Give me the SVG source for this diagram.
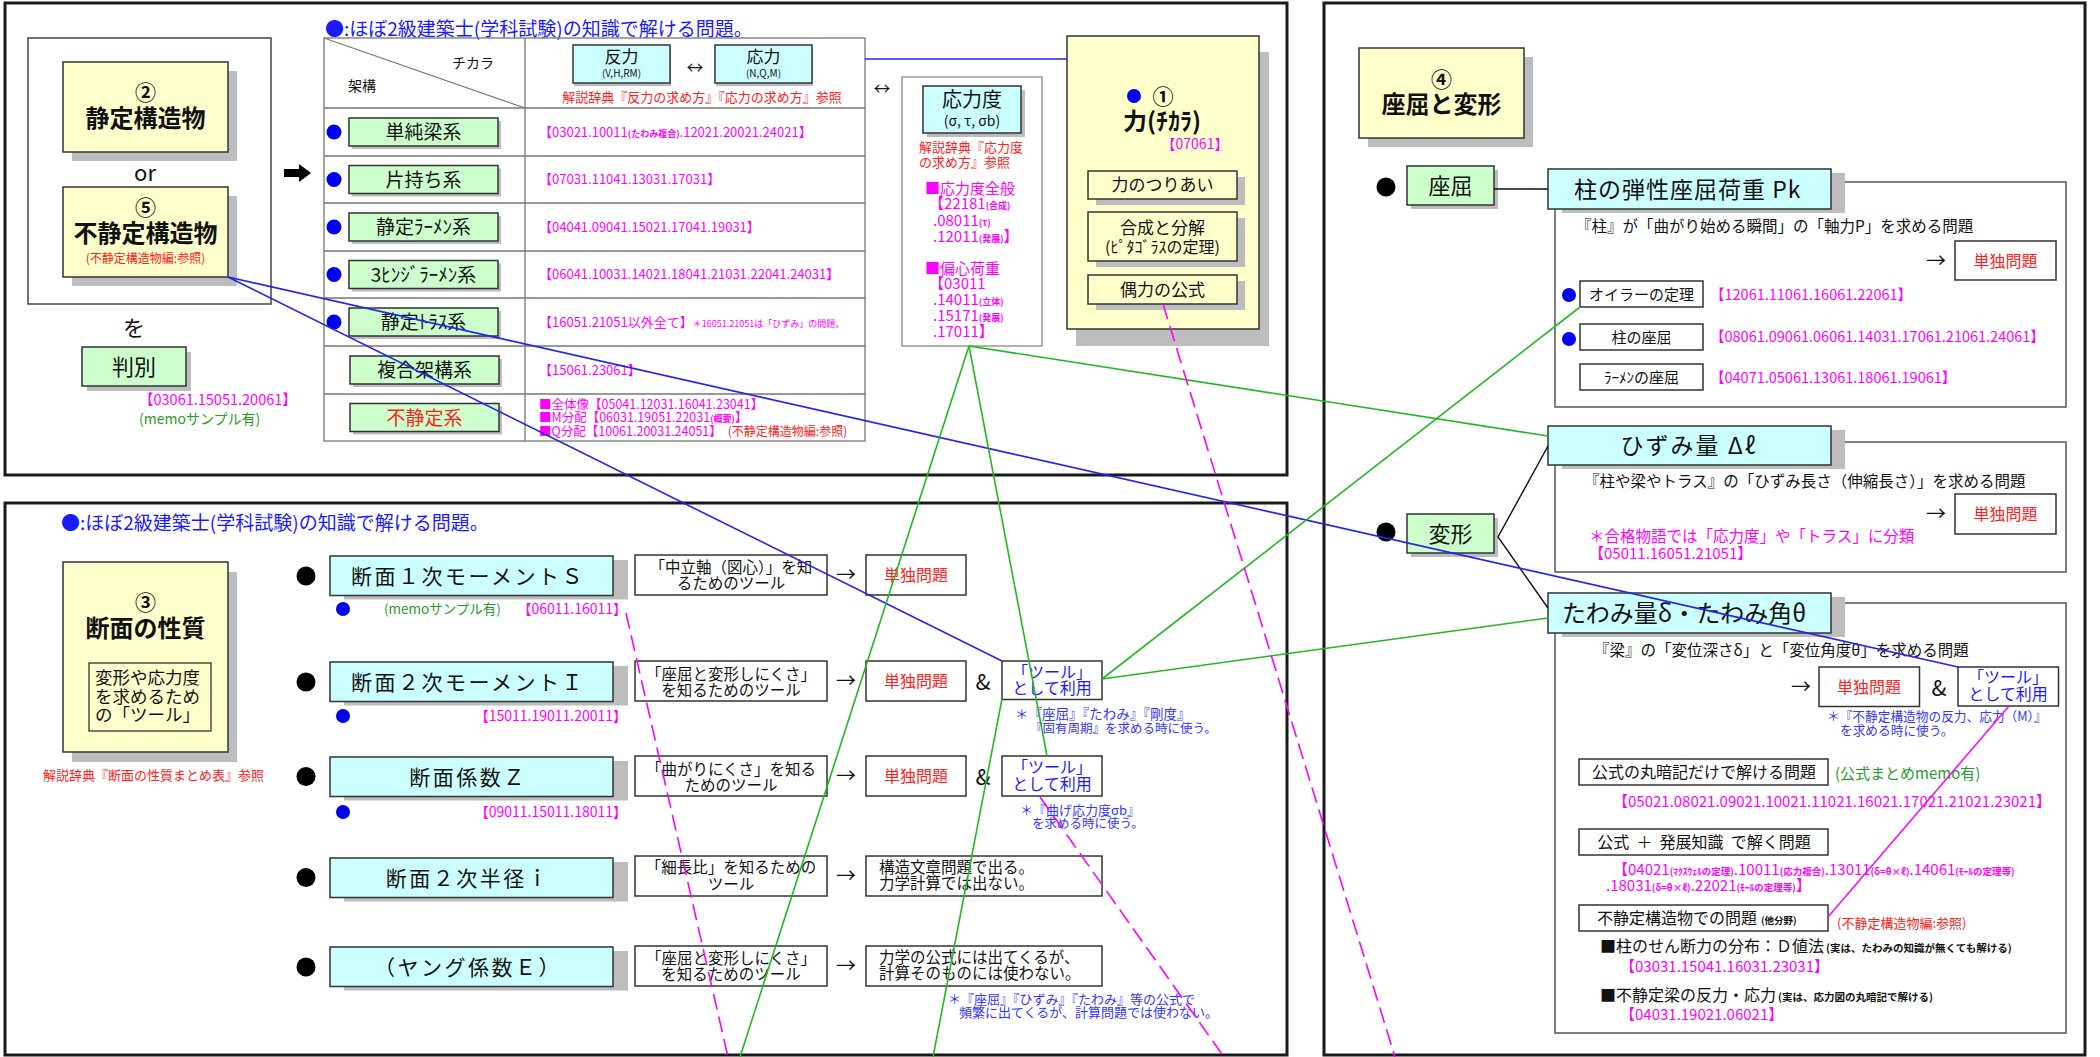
<svg xmlns="http://www.w3.org/2000/svg" width="2100" height="1057" viewBox="0 0 2100 1057">
<defs>
<style>
text{font-family:"Noto Sans CJK JP","Noto Sans",sans-serif;fill:#111}
.b{font-weight:bold}
.m{text-anchor:middle}
.e{text-anchor:end}
.mag{fill:#ff00ff}
.red{fill:#ff2020}
.blu{fill:#1a1aff}
.nb{fill:#3535ff}
.grt{fill:#2a9a2a}
.sh{fill:#bdbdbd}
.bx{stroke:#333;stroke-width:1.5}
.y{fill:#ffffcc}
.c{fill:#ccffff}
.g{fill:#ccffcc}
.w{fill:#fff}
.panel{fill:none;stroke:#1a1a1a;stroke-width:3}
.outline{fill:none;stroke:#555;stroke-width:1.5}
.grid{stroke:#777;stroke-width:1.3;fill:none}
.bdot{fill:#0000ee}
.kdot{fill:#000}
.cb{stroke:#2424ee;stroke-width:1.6;fill:none}
.cg{stroke:#22b822;stroke-width:1.6;fill:none}
.cm{stroke:#ff00ff;stroke-width:1.6;fill:none;stroke-dasharray:16 7}
.cms{stroke:#ff00ff;stroke-width:1.5;fill:none}
.ck{stroke:#111;stroke-width:1.4;fill:none}
</style>
</defs>
<rect width="2100" height="1057" fill="#fff"/>

<!-- panels -->
<g id="panels">
<rect class="panel" x="5" y="3" width="1282" height="472"/>
<rect class="panel" x="5" y="503" width="1282" height="552"/>
<rect class="panel" x="1324" y="3" width="761" height="1052"/>
</g>

<!-- ===== top-left panel ===== -->
<g id="n-structure-frame">
<rect x="28" y="38" width="243" height="266" fill="#fff" stroke="#444" stroke-width="1.5"/>
</g>
<g id="n-seitei">
<rect class="sh" x="72" y="71" width="165" height="90"/>
<rect class="y bx" x="63" y="62" width="165" height="90"/>
<text class="m b" x="145.5" y="100" font-size="21">②</text>
<text class="m b" x="145.5" y="127" font-size="24">静定構造物</text>
</g>
<text class="m" x="145" y="181" font-size="22">or</text>
<g id="n-futeitei">
<rect class="sh" x="72" y="196" width="165" height="90"/>
<rect class="y bx" x="63" y="187" width="165" height="90"/>
<text class="m b" x="145.5" y="215" font-size="21">⑤</text>
<text class="m b" x="145.5" y="242" font-size="24">不静定構造物</text>
<text class="m red" x="145.5" y="263" font-size="12">(不静定構造物編:参照)</text>
</g>
<text class="m" x="134" y="336" font-size="22">を</text>
<g id="n-hanbetsu">
<rect class="sh" x="87" y="352" width="104" height="39"/>
<rect class="g bx" x="82" y="347" width="104" height="39"/>
<text class="m" x="134" y="375" font-size="22">判別</text>
</g>
<text class="mag" x="139" y="405" font-size="14.5">【03061.15051.20061】</text>
<text class="grt" x="139" y="424" font-size="14">(memoサンプル有)</text>
<path d="M284,169 L299,169 L299,164 L311,173 L299,182 L299,177 L284,177 Z" fill="#000"/>

<!-- table -->
<g id="n-table">
<text class="blu" x="325" y="36" font-size="19">●:ほぼ2級建築士(学科試験)の知識で解ける問題。</text>
<rect class="grid" x="324" y="38" width="541" height="403" stroke="#555" stroke-width="1.6"/>
<path class="grid" d="M525,38 V441 M324,108 H865 M324,156 H865 M324,203 H865 M324,251 H865 M324,298 H865 M324,346 H865 M324,394 H865"/>
<path d="M324,38 L525,108" stroke="#777" stroke-width="1.2"/>
<text x="452" y="68" font-size="14">チカラ</text>
<text x="348" y="91" font-size="14">架構</text>

<rect class="sh" x="574" y="48" width="97" height="38"/>
<rect class="c bx" x="573" y="45" width="97" height="38"/>
<text class="m" x="621.5" y="63" font-size="17">反力</text>
<text class="m" x="621.5" y="77" font-size="10">(V,H,RM)</text>
<text class="m" x="695" y="74" font-size="17">↔</text>
<rect class="sh" x="716" y="48" width="97" height="38"/>
<rect class="c bx" x="715" y="45" width="97" height="38"/>
<text class="m" x="763.5" y="63" font-size="17">応力</text>
<text class="m" x="763.5" y="77" font-size="10">(N,Q,M)</text>
<text class="m red" x="702" y="102" font-size="13">解説辞典『反力の求め方』『応力の求め方』参照</text>

<g id="row-tanjunbari">
<circle class="bdot" cx="334" cy="132" r="7.5"/>
<rect class="sh" x="352" y="121" width="149" height="28"/>
<rect class="g bx" x="349" y="118" width="149" height="28"/>
<text class="m" x="423.5" y="139" font-size="19">単純梁系</text>
<text class="mag" x="539" y="136.5" font-size="13">【03021.10011<tspan font-size="9" font-weight="bold">(たわみ複合)</tspan>.12021.20021.24021】</text>
</g>
<g id="row-katamochi">
<circle class="bdot" cx="334" cy="179.5" r="7.5"/>
<rect class="sh" x="352" y="168.5" width="149" height="28"/>
<rect class="g bx" x="349" y="165.5" width="149" height="28"/>
<text class="m" x="423.5" y="186.5" font-size="19">片持ち系</text>
<text class="mag" x="539" y="184" font-size="13">【07031.11041.13031.17031】</text>
</g>
<g id="row-rahmen">
<circle class="bdot" cx="334" cy="227" r="7.5"/>
<rect class="sh" x="352" y="216" width="149" height="28"/>
<rect class="g bx" x="349" y="213" width="149" height="28"/>
<text class="m" x="423.5" y="234" font-size="19">静定ﾗｰﾒﾝ系</text>
<text class="mag" x="539" y="231.5" font-size="13">【04041.09041.15021.17041.19031】</text>
</g>
<g id="row-3hinge">
<circle class="bdot" cx="334" cy="274.5" r="7.5"/>
<rect class="sh" x="352" y="263.5" width="149" height="28"/>
<rect class="g bx" x="349" y="260.5" width="149" height="28"/>
<text class="m" x="423.5" y="281.5" font-size="19">3ﾋﾝｼﾞﾗｰﾒﾝ系</text>
<text class="mag" x="539" y="279" font-size="13">【06041.10031.14021.18041.21031.22041.24031】</text>
</g>
<g id="row-truss">
<circle class="bdot" cx="334" cy="322" r="7.5"/>
<rect class="sh" x="352" y="311" width="149" height="28"/>
<rect class="g bx" x="349" y="308" width="149" height="28"/>
<text class="m" x="423.5" y="329" font-size="19">静定ﾄﾗｽ系</text>
<text class="mag" x="539" y="326.5" font-size="13">【16051.21051以外全て】<tspan font-size="9">＊16051.21051は「ひずみ」の問題。</tspan></text>
</g>
<g id="row-fukugo">
<rect class="sh" x="353" y="359" width="149" height="28"/>
<rect class="g bx" x="350" y="356" width="149" height="28"/>
<text class="m" x="424.5" y="377" font-size="19">複合架構系</text>
<text class="mag" x="539" y="374.5" font-size="13">【15061.23061】</text>
</g>
<g id="row-futeitei">
<rect class="sh" x="353" y="406.5" width="149" height="28"/>
<rect class="g bx" x="350" y="403.5" width="149" height="28"/>
<text class="m red" x="424.5" y="424.5" font-size="19">不静定系</text>
<text class="mag" x="539" y="408.5" font-size="12.5">■全体像【05041.12031.16041.23041】</text>
<text class="mag" x="539" y="422" font-size="12.5">■M分配【06031.19051.22031<tspan font-size="9" font-weight="bold">(概要)</tspan>】</text>
<text class="mag" x="539" y="435.5" font-size="12.5">■Q分配【10061.20031.24051】<tspan class="red" font-size="12" dx="6">(不静定構造物編:参照)</tspan></text>
</g>
</g>

<text class="m" x="882" y="95" font-size="17">↔</text>

<g id="n-stress">
<rect x="902" y="77" width="140" height="269" fill="#fff" stroke="#888" stroke-width="1.3"/>
<rect class="sh" x="927" y="90" width="98" height="47"/>
<rect class="c bx" x="923" y="86" width="98" height="47"/>
<text class="m" x="972" y="107" font-size="20">応力度</text>
<text class="m" x="972" y="126" font-size="14">(σ, τ, σb)</text>
<text class="red" x="919" y="152" font-size="13">解説辞典『応力度</text>
<text class="red" x="919" y="167" font-size="13">の求め方』参照</text>
<text class="mag" x="925" y="194" font-size="15">■応力度全般</text>
<text class="mag" x="929" y="209" font-size="15">【22181<tspan font-size="9" font-weight="bold">(合成)</tspan></text>
<text class="mag" x="933" y="225.5" font-size="15">.08011<tspan font-size="9" font-weight="bold">(τ)</tspan></text>
<text class="mag" x="933" y="242" font-size="15">.12011<tspan font-size="9" font-weight="bold">(発展)</tspan>】</text>
<text class="mag" x="925" y="274" font-size="15">■偏心荷重</text>
<text class="mag" x="929" y="289" font-size="15">【03011</text>
<text class="mag" x="933" y="305" font-size="15">.14011<tspan font-size="9" font-weight="bold">(立体)</tspan></text>
<text class="mag" x="933" y="321" font-size="15">.15171<tspan font-size="9" font-weight="bold">(発展)</tspan></text>
<text class="mag" x="933" y="337" font-size="15">.17011】</text>
</g>

<g id="n-force">
<rect class="sh" x="1076" y="52" width="193" height="294"/>
<rect class="y bx" x="1067" y="36" width="192" height="293"/>
<circle class="bdot" cx="1134" cy="96" r="7"/>
<text class="m b" x="1163" y="104" font-size="21">①</text>
<text class="m b" x="1162" y="130" font-size="24">力(ﾁｶﾗ)</text>
<text class="m mag" x="1195" y="149" font-size="14">【07061】</text>
<rect class="sh" x="1096" y="177" width="149" height="28"/>
<rect class="y bx" x="1088" y="171" width="149" height="28"/>
<text class="m" x="1162.5" y="191" font-size="17">力のつりあい</text>
<rect class="sh" x="1096" y="218" width="149" height="49"/>
<rect class="y bx" x="1088" y="212" width="149" height="49"/>
<text class="m" x="1162.5" y="234" font-size="17">合成と分解</text>
<text class="m" x="1162.5" y="253" font-size="16">(ﾋﾟﾀｺﾞﾗｽの定理)</text>
<rect class="sh" x="1096" y="281" width="149" height="29"/>
<rect class="y bx" x="1088" y="275" width="149" height="29"/>
<text class="m" x="1162.5" y="296" font-size="17">偶力の公式</text>
</g>

<!-- ===== bottom-left panel ===== -->
<text class="blu" x="61" y="530" font-size="19">●:ほぼ2級建築士(学科試験)の知識で解ける問題。</text>
<g id="n-section">
<rect class="sh" x="72" y="572" width="165" height="190"/>
<rect class="y bx" x="63" y="562" width="165" height="190"/>
<text class="m b" x="145.5" y="610" font-size="21">③</text>
<text class="m b" x="145.5" y="637" font-size="24">断面の性質</text>
<rect x="89" y="663" width="122" height="68" fill="none" stroke="#333" stroke-width="1.3"/>
<text x="95" y="684" font-size="17.5">変形や応力度</text>
<text x="95" y="702.5" font-size="17.5">を求めるため</text>
<text x="95" y="721" font-size="17.5">の「ツール」</text>
</g>
<text class="red" x="43" y="780" font-size="13">解説辞典『断面の性質まとめ表』参照</text>

<g id="n-s1">
<circle class="kdot" cx="306" cy="576" r="9.5"/>
<rect class="sh" x="344" y="560" width="284" height="39.5"/>
<rect class="c bx" x="330" y="556" width="283" height="39.5"/>
<text class="m" x="468" y="584" font-size="21" letter-spacing="2.5">断面１次モーメントＳ</text>
<circle class="bdot" cx="343" cy="609" r="7"/>
<text class="grt" x="384" y="614" font-size="13.5">(memoサンプル有)</text>
<text class="mag e" x="627" y="614" font-size="14">【06011.16011】</text>
</g>
<g id="n-s1-desc">
<rect class="w bx" x="635" y="555" width="192" height="40"/>
<text class="m" x="731" y="573" font-size="15.5">「中立軸（図心）」を知</text>
<text class="m" x="731" y="589" font-size="15.5">るためのツール</text>
<text class="m" x="846" y="582" font-size="20">→</text>
<rect class="w bx" x="866" y="555" width="100" height="40"/>
<text class="m red" x="916" y="581" font-size="16">単独問題</text>
</g>

<g id="n-i2">
<circle class="kdot" cx="306" cy="682" r="9.5"/>
<rect class="sh" x="344" y="666" width="284" height="39.5"/>
<rect class="c bx" x="330" y="662" width="283" height="39.5"/>
<text class="m" x="468" y="690" font-size="21" letter-spacing="2.5">断面２次モーメントＩ</text>
<circle class="bdot" cx="343" cy="716" r="7"/>
<text class="mag e" x="627" y="721" font-size="14">【15011.19011.20011】</text>
</g>
<g id="n-i2-desc">
<rect class="w bx" x="635" y="661" width="192" height="40"/>
<text class="m" x="731" y="680" font-size="15.5">「座屈と変形しにくさ」</text>
<text class="m" x="731" y="696" font-size="15.5">を知るためのツール</text>
<text class="m" x="846" y="688" font-size="20">→</text>
<rect class="w bx" x="866" y="661" width="100" height="40"/>
<text class="m red" x="916" y="687" font-size="16">単独問題</text>
<text class="m" x="983" y="690" font-size="22">&amp;</text>
<rect class="w bx" x="1002" y="661" width="100" height="38.5"/>
<text class="m blu" x="1052" y="678" font-size="16">「ツール」</text>
<text class="m blu" x="1052" y="694" font-size="16">として利用</text>
<text class="nb" x="1015" y="719" font-size="13.5">＊『座屈』『たわみ』『剛度』</text>
<text class="nb" x="1030" y="733" font-size="12.5">『固有周期』を求める時に使う。</text>
</g>

<g id="n-z">
<circle class="kdot" cx="306" cy="776.5" r="9.5"/>
<rect class="sh" x="344" y="761" width="284" height="39.5"/>
<rect class="c bx" x="330" y="757" width="283" height="39.5"/>
<text class="m" x="468" y="784.5" font-size="21" letter-spacing="2.5">断面係数Ｚ</text>
<circle class="bdot" cx="343" cy="812" r="7"/>
<text class="mag e" x="627" y="817" font-size="14">【09011.15011.18011】</text>
</g>
<g id="n-z-desc">
<rect class="w bx" x="635" y="756" width="192" height="40"/>
<text class="m" x="731" y="775" font-size="15.5">「曲がりにくさ」を知る</text>
<text class="m" x="731" y="791" font-size="15.5">ためのツール</text>
<text class="m" x="846" y="783" font-size="20">→</text>
<rect class="w bx" x="866" y="756" width="100" height="40"/>
<text class="m red" x="916" y="782" font-size="16">単独問題</text>
<text class="m" x="983" y="785" font-size="22">&amp;</text>
<rect class="w bx" x="1002" y="756" width="100" height="40"/>
<text class="m blu" x="1052" y="773" font-size="16">「ツール」</text>
<text class="m blu" x="1052" y="790" font-size="16">として利用</text>
<text class="nb" x="1020" y="815" font-size="13">＊『曲げ応力度σb』</text>
<text class="nb" x="1032" y="828" font-size="12.5">を求める時に使う。</text>
</g>

<g id="n-i">
<circle class="kdot" cx="306" cy="877.5" r="9.5"/>
<rect class="sh" x="344" y="862" width="284" height="39.5"/>
<rect class="c bx" x="330" y="858" width="283" height="39.5"/>
<text class="m" x="468" y="885.5" font-size="21" letter-spacing="2.5">断面２次半径ｉ</text>
</g>
<g id="n-i-desc">
<rect class="w bx" x="635" y="856" width="192" height="40"/>
<text class="m" x="731" y="873" font-size="15.5">「細長比」を知るための</text>
<text class="m" x="731" y="890" font-size="15.5">ツール</text>
<text class="m" x="846" y="883" font-size="20">→</text>
<rect class="w bx" x="866" y="856" width="236" height="40"/>
<text x="879" y="873" font-size="15.5">構造文章問題で出る。</text>
<text x="879" y="889" font-size="15.5">力学計算では出ない。</text>
</g>

<g id="n-e">
<circle class="kdot" cx="306" cy="967" r="9.5"/>
<rect class="sh" x="344" y="951" width="284" height="39.5"/>
<rect class="c bx" x="330" y="947" width="283" height="39.5"/>
<text class="m" x="468" y="975" font-size="21" letter-spacing="2.5">（ヤング係数Ｅ）</text>
</g>
<g id="n-e-desc">
<rect class="w bx" x="635" y="946" width="192" height="40"/>
<text class="m" x="731" y="964" font-size="15.5">「座屈と変形しにくさ」</text>
<text class="m" x="731" y="980" font-size="15.5">を知るためのツール</text>
<text class="m" x="846" y="973" font-size="20">→</text>
<rect class="w bx" x="866" y="946" width="236" height="40"/>
<text x="879" y="963" font-size="15.5">力学の公式には出てくるが、</text>
<text x="879" y="979" font-size="15.5">計算そのものには使わない。</text>
<text class="nb" x="948" y="1004" font-size="13">＊『座屈』『ひずみ』『たわみ』等の公式で</text>
<text class="nb" x="959" y="1017" font-size="13">頻繁に出てくるが、計算問題では使わない。</text>
</g>

<!-- ===== right panel ===== -->
<g id="n-buckling-deform">
<rect class="sh" x="1368" y="57" width="165" height="90"/>
<rect class="y bx" x="1359" y="48" width="165" height="90"/>
<text class="m b" x="1441.5" y="87" font-size="21">④</text>
<text class="m b" x="1441.5" y="113" font-size="24">座屈と変形</text>
</g>

<g id="n-zakutsu">
<circle class="kdot" cx="1386" cy="187" r="9.5"/>
<rect class="sh" x="1411" y="170" width="87" height="39"/>
<rect class="g bx" x="1407" y="166" width="87" height="39"/>
<text class="m" x="1450.5" y="194" font-size="22">座屈</text>
</g>

<g id="n-pk">
<rect class="outline" x="1555" y="182" width="511" height="225"/>
<rect class="sh" x="1562" y="173" width="283" height="40"/>
<rect class="c bx" x="1548" y="169" width="283" height="40"/>
<text x="1574" y="198" font-size="23" letter-spacing="1">柱の弾性座屈荷重 Pk</text>
<text x="1576" y="232" font-size="15.5">『柱』が「曲がり始める瞬間」の「軸力P」を求める問題</text>
<text class="m" x="1936" y="268" font-size="20">→</text>
<rect class="w bx" x="1955" y="241" width="101" height="39"/>
<text class="m red" x="2005.5" y="267" font-size="16">単独問題</text>
<circle class="bdot" cx="1569" cy="295" r="7"/>
<rect class="w bx" x="1580" y="281" width="123" height="26"/>
<text class="m" x="1641.5" y="300" font-size="15">オイラーの定理</text>
<text class="mag" x="1710" y="300" font-size="14.5">【12061.11061.16061.22061】</text>
<circle class="bdot" cx="1569" cy="339" r="7"/>
<rect class="w bx" x="1580" y="324" width="123" height="26"/>
<text class="m" x="1641.5" y="343" font-size="15">柱の座屈</text>
<text class="mag" x="1710" y="342" font-size="14.5">【08061.09061.06061.14031.17061.21061.24061】</text>
<rect class="w bx" x="1580" y="364" width="123" height="26"/>
<text class="m" x="1641.5" y="383" font-size="15">ﾗｰﾒﾝの座屈</text>
<text class="mag" x="1710" y="383" font-size="14.5">【04071.05061.13061.18061.19061】</text>
</g>

<g id="n-henkei">
<circle class="kdot" cx="1386" cy="532" r="9.5"/>
<rect class="sh" x="1411" y="518" width="87" height="39"/>
<rect class="g bx" x="1407" y="514" width="87" height="39"/>
<text class="m" x="1450.5" y="542" font-size="22">変形</text>
</g>

<g id="n-hizumi">
<rect class="outline" x="1555" y="442" width="511" height="130"/>
<rect class="sh" x="1562" y="430" width="283" height="39"/>
<rect class="c bx" x="1548" y="426" width="283" height="39"/>
<text class="m" x="1689" y="454" font-size="23" letter-spacing="2">ひずみ量 Δℓ</text>
<text x="1584" y="487" font-size="15.5">『柱や梁やトラス』の「ひずみ長さ（伸縮長さ）」を求める問題</text>
<text class="m" x="1936" y="521" font-size="20">→</text>
<rect class="w bx" x="1955" y="494" width="101" height="40"/>
<text class="m red" x="2005.5" y="520" font-size="16">単独問題</text>
<text class="mag" x="1589" y="542" font-size="15.5">＊合格物語では「応力度」や「トラス」に分類</text>
<text class="mag" x="1589" y="559" font-size="15">【05011.16051.21051】</text>
</g>

<g id="n-tawami">
<rect class="outline" x="1555" y="603" width="511" height="430"/>
<rect class="sh" x="1562" y="597" width="283" height="40"/>
<rect class="c bx" x="1548" y="593" width="283" height="40"/>
<text class="m" x="1684" y="622" font-size="24">たわみ量δ・たわみ角θ</text>
<text x="1594" y="656" font-size="15.5">『梁』の「変位深さδ」と「変位角度θ」を求める問題</text>
<text class="m" x="1801" y="694" font-size="20">→</text>
<rect class="w bx" x="1819" y="667" width="100.5" height="39.5"/>
<text class="m red" x="1869" y="693" font-size="16">単独問題</text>
<text class="m" x="1939" y="696" font-size="22">&amp;</text>
<rect class="w bx" x="1958" y="667" width="100.5" height="39"/>
<text class="m blu" x="2008" y="683" font-size="16">「ツール」</text>
<text class="m blu" x="2008" y="700" font-size="16">として利用</text>
<text class="nb" x="1827" y="721" font-size="12.7">＊『不静定構造物の反力、応力（M）』</text>
<text class="nb" x="1840" y="735" font-size="12.7">を求める時に使う。</text>

<rect class="w bx" x="1579" y="759" width="249" height="26"/>
<text class="m" x="1704" y="778" font-size="16">公式の丸暗記だけで解ける問題</text>
<text class="grt" x="1835" y="778.5" font-size="15">(公式まとめmemo有)</text>
<text class="mag" x="1613" y="807" font-size="15">【05021.08021.09021.10021.11021.16021.17021.21021.23021】</text>

<rect class="w bx" x="1579" y="829" width="249" height="26"/>
<text class="m" x="1704" y="848" font-size="16" xml:space="preserve">公式  ＋  発展知識  で解く問題</text>
<text class="mag" x="1613" y="874.5" font-size="15">【04021<tspan font-size="9.5" font-weight="bold">(ﾏｸｽｳｪﾙの定理)</tspan>.10011<tspan font-size="9.5" font-weight="bold">(応力複合)</tspan>.13011<tspan font-size="9.5" font-weight="bold">(δ=θ×ℓ)</tspan>.14061<tspan font-size="9.5" font-weight="bold">(ﾓｰﾙの定理等)</tspan></text>
<text class="mag" x="1606" y="890.5" font-size="15">.18031<tspan font-size="9.5" font-weight="bold">(δ=θ×ℓ)</tspan>.22021<tspan font-size="9.5" font-weight="bold">(ﾓｰﾙの定理等)</tspan>】</text>

<rect class="w bx" x="1579" y="905" width="249" height="26"/>
<text x="1597" y="924" font-size="16">不静定構造物での問題<tspan font-size="9.5" font-weight="bold" dx="4">(他分野)</tspan></text>
<text class="red" x="1837" y="928" font-size="13">(不静定構造物編:参照)</text>
<text x="1600" y="952" font-size="16">■柱のせん断力の分布：Ｄ値法<tspan font-size="10.5" font-weight="bold" dx="2">(実は、たわみの知識が無くても解ける)</tspan></text>
<text class="mag" x="1620" y="971.5" font-size="15">【03031.15041.16031.23031】</text>
<text x="1600" y="1000.5" font-size="16">■不静定梁の反力・応力<tspan font-size="10.5" font-weight="bold" dx="2">(実は、応力図の丸暗記で解ける)</tspan></text>
<text class="mag" x="1620" y="1020" font-size="15">【04031.19021.06021】</text>
</g>

<!-- ===== connectors ===== -->
<g id="connectors">
<path class="ck" d="M1494,189 H1548"/>
<path class="ck" d="M1548,446 L1498,537 L1548,608"/>
<path class="cb" d="M865,59 H1067"/>
<path class="cb" d="M228,277 L1958,667"/>
<path class="cb" d="M228,277 L1002,661"/>
<path class="cg" d="M969,346 L1548,436"/>
<path class="cg" d="M969,346 L740,1057"/>
<path class="cg" d="M969,346 L1047,756"/>
<path class="cg" d="M1002,699 L933,1057"/>
<path class="cg" d="M1102,679 L1580,307"/>
<path class="cg" d="M1102,679 L1548,618"/>
<path class="cm" d="M1163,304 L1395,1057"/>
<path class="cm" d="M626,613 L728,1057"/>
<path class="cm" d="M1040,797 L1224,1057"/>
<path class="cms" d="M2009,706 L1828,917"/>
</g>
</svg>
